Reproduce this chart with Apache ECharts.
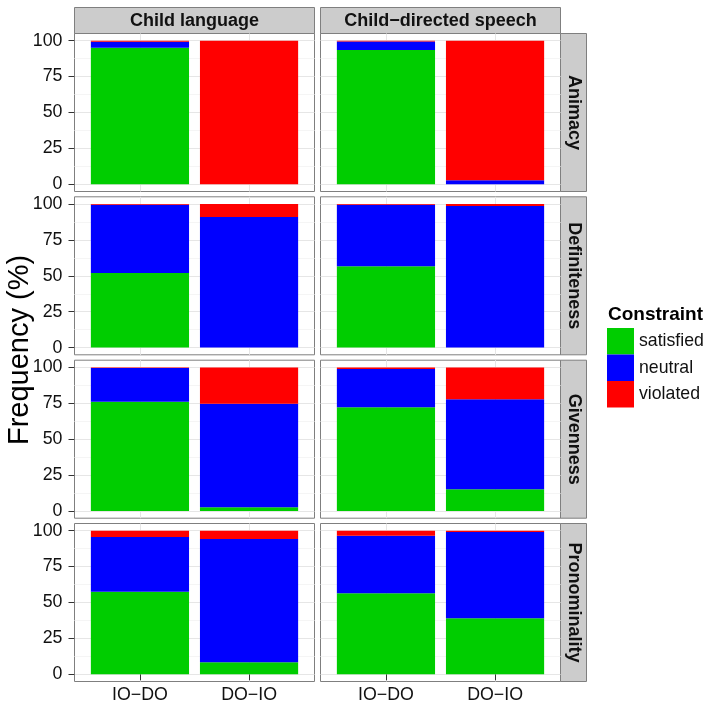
<!DOCTYPE html>
<html><head><meta charset="utf-8">
<script src="https://cdn.jsdelivr.net/npm/echarts@6/dist/echarts.min.js"></script>
<style>html,body{margin:0;padding:0;background:#fff}#c{width:706px;height:709px}</style>
</head><body><div id="c"></div>
<script>
// ---- data ----
const colLabels = ['Child language', 'Child\u2212directed speech'];
const rowLabels = ['Animacy', 'Definiteness', 'Givenness', 'Pronominality'];
const xCats = ['IO\u2212DO', 'DO\u2212IO'];
const xTickVals = [1, 2];
const yTicks = [0, 25, 50, 75, 100];
const yMinor = [12.5, 37.5, 62.5, 87.5];
const constraints = ['satisfied', 'neutral', 'violated'];
// panels ordered row by row: [Animacy/CL, Animacy/CDS, Definiteness/CL, ...]; values for [IO-DO, DO-IO]
const satisfied = [[95.1, 0], [93.5, 0], [51.9, 0], [56.7, 0], [76.0, 2.6], [72.3, 15.1], [57.4, 8.4], [56.5, 39.1]];
const neutral   = [[4.2, 0], [6.0, 2.8], [47.6, 90.9], [42.8, 98.6], [23.6, 72.1], [26.5, 62.8], [38.2, 85.8], [40.0, 60.0]];
const violated  = [[0.7, 100], [0.5, 97.2], [0.5, 9.1], [0.5, 1.4], [0.4, 25.3], [1.2, 22.1], [4.4, 5.8], [3.5, 0.9]];

// ---- layout / style ----
const FONT = '"Liberation Sans", Arial, sans-serif';
const colors = {satisfied: '#00CD00', neutral: '#0000FF', violated: '#FF0000'};
const values = {satisfied, neutral, violated};
const colLeft = [74.5, 320.5];
const rowTop = [33.5, 196.8, 360.2, 523.5];
const W = 240, H = 158;

const grids = [], xAxes = [], yAxes = [], yMinorAxes = [], series = [], graphics = [];
for (let r = 0; r < 4; r++) {
  for (let c = 0; c < 2; c++) {
    const p = r * 2 + c;
    grids.push({left: colLeft[c], top: rowTop[r], width: W, height: H, show: true,
      backgroundColor: '#fff', borderColor: '#7f7f7f', borderWidth: 1});
    xAxes.push({type: 'value', gridIndex: p, min: 0.4, max: 2.6,
      axisLine: {show: false},
      axisTick: {show: r === 3, customValues: xTickVals, length: 6, lineStyle: {color: '#333'}},
      axisLabel: {show: r === 3, customValues: xTickVals, formatter: v => xCats[Math.round(v) - 1],
        fontSize: 17.8, color: '#111', margin: 5, fontFamily: FONT},
      splitLine: {show: true, lineStyle: {color: '#e6e6e6', width: 1}}});
    yAxes.push({type: 'value', gridIndex: p, min: -5, max: 105, position: 'left',
      axisLine: {show: false},
      axisTick: {show: c === 0, customValues: yTicks, length: 6, lineStyle: {color: '#333'}},
      axisLabel: {show: c === 0, customValues: yTicks, fontSize: 17.8, color: '#111', margin: 12, fontFamily: FONT},
      splitLine: {show: true, lineStyle: {color: '#e6e6e6', width: 1}}});
    yMinorAxes.push({type: 'value', gridIndex: p, min: -5, max: 105, position: 'right',
      axisLine: {show: false},
      axisTick: {show: false, customValues: yMinor},
      axisLabel: {show: false, customValues: yMinor},
      splitLine: {show: true, lineStyle: {color: '#f5f5f5', width: 1}}});
    constraints.forEach(k => {
      series.push({type: 'bar', name: k, xAxisIndex: p, yAxisIndex: p, stack: 's' + p,
        barWidth: '90%', itemStyle: {color: colors[k]}, silent: true,
        dimensions: ['v', 'x'], encode: {x: 1, y: 0},
        data: xTickVals.map((x, i) => [values[k][p][i], x])});
    });
  }
}
colLabels.forEach((t, c) => {
  graphics.push({type: 'rect', shape: {x: colLeft[c], y: 7.5, width: W, height: 26},
    style: {fill: '#cccccc', stroke: '#7f7f7f', lineWidth: 1}});
  graphics.push({type: 'text', x: colLeft[c] + W / 2, y: 21,
    style: {text: t, fill: '#111', font: 'bold 18px ' + FONT, align: 'center', verticalAlign: 'middle',
      textAlign: 'center', textVerticalAlign: 'middle'}});
});
rowLabels.forEach((t, r) => {
  graphics.push({type: 'rect', shape: {x: 560.5, y: rowTop[r], width: 26, height: H},
    style: {fill: '#cccccc', stroke: '#7f7f7f', lineWidth: 1}});
  graphics.push({type: 'text', x: 573.5, y: rowTop[r] + H / 2, rotation: -Math.PI / 2,
    style: {text: t, fill: '#111', font: 'bold 18px ' + FONT, align: 'center', verticalAlign: 'middle',
      textAlign: 'center', textVerticalAlign: 'middle'}});
});
graphics.push({type: 'text', x: 20, y: 350, rotation: Math.PI / 2,
  style: {text: 'Frequency (%)', fill: '#000', font: '29px ' + FONT, align: 'center', verticalAlign: 'middle',
    textAlign: 'center', textVerticalAlign: 'middle'}});

const chart = echarts.init(document.getElementById('c'), null, {renderer: 'canvas'});
chart.setOption({
  animation: false,
  backgroundColor: '#fff',
  title: {text: 'Constraint', left: 608, top: 305, padding: 0,
    textStyle: {fontSize: 19, fontWeight: 'bold', color: '#000', fontFamily: FONT}},
  legend: {data: constraints, orient: 'vertical', left: 607, top: 328, padding: 0,
    itemWidth: 27, itemHeight: 26.5, itemGap: 0, icon: 'rect', selectedMode: false,
    textStyle: {fontSize: 17.7, color: '#111', fontFamily: FONT}},
  grid: grids,
  xAxis: xAxes,
  yAxis: yAxes.concat(yMinorAxes),
  series: series,
  graphic: graphics
});
</script></body></html>
